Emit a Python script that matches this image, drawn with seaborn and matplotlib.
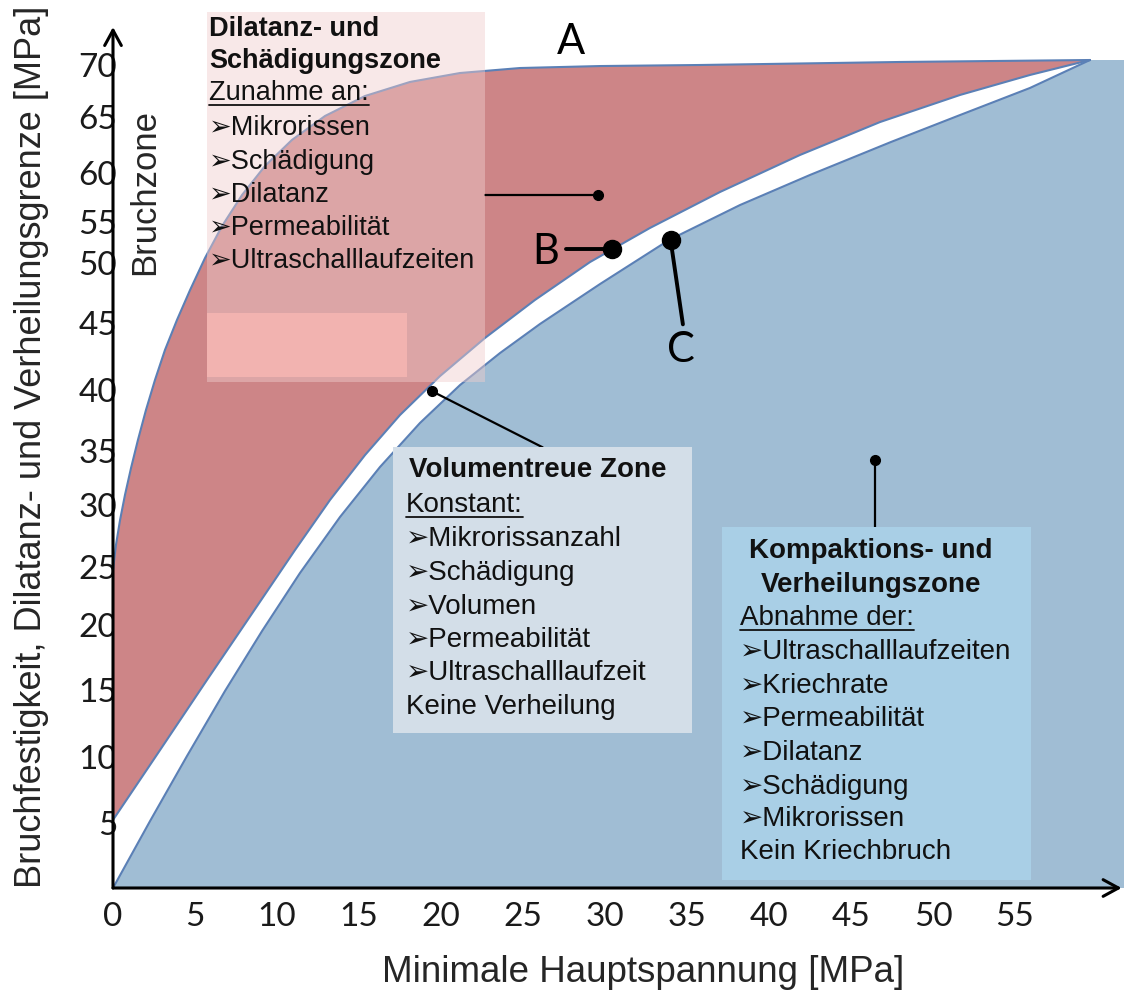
import numpy as np
import matplotlib
matplotlib.use("Agg")
import matplotlib.pyplot as plt
import seaborn as sns
from matplotlib.patches import Rectangle
from matplotlib.lines import Line2D

# ---------------- data (MPa) ----------------
# A: Bruchfestigkeit (upper envelope)
A_X = [0, 0.18, 0.43, 0.73, 1.10, 1.52, 2.01, 2.56, 3.17, 3.90, 4.70, 5.61,
       6.65, 7.87, 9.27, 10.91, 12.93, 15.37, 18.11, 21.16, 24.82, 29.7,
       35.79, 47.99, 59.57]
A_Y = [24.74, 26.77, 28.79, 30.93, 33.43, 35.9, 38.36, 40.75, 42.99, 45.25,
       47.75, 50.61, 54.51, 57.76, 60.63, 62.95, 65.1, 67.02, 68.37, 69.23,
       69.71, 69.9, 70.0, 70.29, 70.48]
# B: Dilatanzgrenze
B_X = [0, 2.87, 5.73, 8.54, 11.1, 13.23, 15.37, 17.5, 19.94, 22.68, 25.73,
       29.09, 32.74, 37.01, 41.89, 46.77, 51.65, 55.91, 59.57]
B_Y = [5.23, 10.52, 15.77, 21.12, 26.37, 30.46, 34.63, 37.95, 41.04, 43.88,
       46.92, 50.12, 54.27, 58.06, 61.61, 64.55, 67.12, 69.04, 70.48]
# C: Verheilungsgrenze
C_X = [0, 2.26, 4.51, 6.83, 9.09, 11.4, 13.84, 16.28, 18.72, 21.16, 23.6,
       26.04, 29.7, 33.9, 38.23, 42.5, 47.44, 51.65, 55.91, 59.57]
C_Y = [0, 5.15, 10.07, 14.93, 19.54, 24.48, 29.03, 33.52, 37.3, 40.37, 42.76,
       44.93, 48.25, 52.8, 56.73, 59.8, 62.77, 65.19, 67.79, 70.48]

X_TICKS = list(range(0, 60, 5))
Y_TICKS = list(range(5, 75, 5))

POINT_B = (30.43, 51.7)
POINT_C = (34.0, 52.8)
POINT_DIL = (29.6, 57.8)
POINT_VOL = (19.45, 39.9)
POINT_KOMP = (46.45, 34.2)

# ------------- y-scale calibration (hand-placed labels in the original) -------------
CAL_V = [-50, 0, 5, 10, 15, 20, 25, 30, 35, 40, 45, 50, 55, 60, 65, 70, 200]
CAL_H = [-650, 0, 65, 131, 198, 263, 321, 383, 437, 498, 565, 625, 666, 715,
         771, 823, 823 + 130 * 10.4]


def fwd(v):
    return np.interp(np.asarray(v, dtype=float), CAL_V, CAL_H)


def inv(u):
    return np.interp(np.asarray(u, dtype=float), CAL_H, CAL_V)


sns.set_theme(style="white")
SANS = ["Liberation Sans", "DejaVu Sans"]
plt.rcParams["font.family"] = SANS

RED = "#cd8587"
BLUE = "#a0bdd4"
EDGE = "#5b80b6"

W, H = 1124, 1001
fig = plt.figure(figsize=(W / 100, H / 100), dpi=100)
AX_L, AX_R, AX_B, AX_T = 113, 1124, 888, 8
ax = fig.add_axes([AX_L / W, 1 - AX_B / H, (AX_R - AX_L) / W, (AX_B - AX_T) / H])
ax.set_facecolor("white")
ax.set_yscale("function", functions=(fwd, inv))
XMAX = (AX_R - AX_L) / 16.4
ax.set_xlim(0, XMAX)
ax.set_ylim(0, float(inv(AX_B - AX_T)))
for s in ax.spines.values():
    s.set_visible(False)

# regions
ax.fill(A_X + B_X[::-1], A_Y + B_Y[::-1], color=RED, lw=0, zorder=1)
ax.fill(C_X + [XMAX, XMAX], C_Y + [C_Y[-1], 0], color=BLUE, lw=0, zorder=1)
for xs, ys in ((A_X, A_Y), (B_X, B_Y), (C_X, C_Y)):
    sns.lineplot(x=xs, y=ys, ax=ax, color=EDGE, lw=1.5, sort=False,
                 estimator=None, zorder=2)

# axes with arrows
arrow = dict(arrowstyle="->,head_length=0.55,head_width=0.3", lw=2.2,
             color="black", mutation_scale=20, shrinkA=0, shrinkB=0)
ax.annotate("", xy=(0, 73.65), xytext=(0, 0), arrowprops=arrow,
            annotation_clip=False, zorder=6)
ax.annotate("", xy=(61.5, 0), xytext=(0, 0), arrowprops=arrow,
            annotation_clip=False, zorder=6)

ax.set_xticks(X_TICKS, labels=[str(v) for v in X_TICKS])
ax.set_yticks(Y_TICKS, labels=[str(v) for v in Y_TICKS])
ax.tick_params(axis="both", length=0, labelsize=24, colors="#1a1a1a")
ax.tick_params(axis="x", pad=10)
ax.tick_params(axis="y", pad=-3)
for lab in ax.get_xticklabels() + ax.get_yticklabels():
    lab.set_fontfamily(["Lato", "DejaVu Sans"])
ax.grid(False)

# pointers
ax.plot([22.7, POINT_DIL[0]], [POINT_DIL[1]] * 2, color="black", lw=1.6, zorder=5)
ax.plot(*POINT_DIL, "o", color="black", ms=7, zorder=5)
ax.plot([POINT_VOL[0], 26.2], [POINT_VOL[1], 35.3], color="black", lw=1.6, zorder=5)
ax.plot(*POINT_VOL, "o", color="black", ms=7, zorder=5)
ax.plot([POINT_KOMP[0]] * 2, [POINT_KOMP[1], 28.2], color="black", lw=1.6, zorder=5)
ax.plot(*POINT_KOMP, "o", color="black", ms=7, zorder=5)
ax.plot([27.6, POINT_B[0]], [POINT_B[1]] * 2, color="black", lw=2.8, zorder=5)
ax.plot(*POINT_B, "o", color="black", ms=13, zorder=5)
ax.plot([POINT_C[0], 34.75], [POINT_C[1], 44.9], color="black", lw=2.8, zorder=5)
ax.plot(*POINT_C, "o", color="black", ms=13, zorder=5)

LETTER = dict(fontsize=30, family=["Lato", "DejaVu Sans"], color="black",
              ha="center", va="center", zorder=6)
ax.text(27.9, 72.2, "A", **LETTER)
ax.text(26.4, 51.34, "B", **LETTER)
ax.text(34.65, 43.0, "C", **LETTER)


def fx(px):
    return px / W


def fy(py):
    return 1 - py / H


def box(x0, y0, x1, y1, fc, alpha=1.0, z=3):
    fig.add_artist(Rectangle((fx(x0), fy(y1)), (x1 - x0) / W, (y1 - y0) / H,
                             transform=fig.transFigure, fc=fc, ec="none",
                             alpha=alpha, zorder=z))


underlines = []


def line(x, y, s, size, bold=False, ha="left", underline=False):
    t = fig.text(fx(x), fy(y), s, fontsize=size, ha=ha, va="center",
                 family=SANS, fontweight="bold" if bold else "normal",
                 color="#111111", zorder=8)
    if underline:
        underlines.append(t)
    return t


# Dilatanz- und Schaedigungszone box
box(207, 12, 485, 382, (240 / 255, 205 / 255, 205 / 255), alpha=0.45, z=3)
box(207, 313, 407, 377, "#f5b5b2", alpha=0.9, z=4)
L, FS = 209, 19.5
line(L, 29, "Dilatanz- und", FS, bold=True)
line(L, 61, "Schädigungszone", FS, bold=True)
line(L, 93, "Zunahme an:", FS, underline=True)
for y, s in zip([128, 162, 195, 228, 261],
                ["Mikrorissen", "Schädigung", "Dilatanz", "Permeabilität",
                 "Ultraschalllaufzeiten"]):
    line(L, y, "➢" + s, FS)

# Volumentreue Zone box
box(393, 447, 692, 733, "#d3dee8", z=3)
L, FS = 406, 20
line(L + 3, 470, "Volumentreue Zone", FS, bold=True)
line(L, 505, "Konstant:", FS, underline=True)
for y, s in zip([539, 573, 607, 640, 673],
                ["Mikrorissanzahl", "Schädigung", "Volumen", "Permeabilität",
                 "Ultraschalllaufzeit"]):
    line(L, y, "➢" + s, FS)
line(L, 707, "Keine Verheilung", FS)

# Kompaktions- und Verheilungszone box
box(722, 527, 1031, 880, "#a9cfe6", z=3)
L = 740
line(871, 551, "Kompaktions- und", FS, bold=True, ha="center")
line(871, 585, "Verheilungszone", FS, bold=True, ha="center")
line(L, 618, "Abnahme der:", FS, underline=True)
for y, s in zip([652, 686, 719, 753, 787, 819],
                ["Ultraschalllaufzeiten", "Kriechrate", "Permeabilität",
                 "Dilatanz", "Schädigung", "Mikrorissen"]):
    line(L, y, "➢" + s, FS)
line(L, 852, "Kein Kriechbruch", FS)

# axis titles
fig.text(fx(145), fy(192), "Bruchzone", rotation=90, fontsize=25,
         ha="center", va="center", family=SANS)
fig.text(fx(32), fy(447), "Bruchfestigkeit, Dilatanz- und Verheilungsgrenze [MPa]",
         rotation=90, fontsize=26, ha="center", va="center", family=SANS)
fig.text(fx(643), fy(973), "Minimale Hauptspannung [MPa]", fontsize=26.5,
         ha="center", va="center", family=SANS)

# underlines sized from the rendered text
fig.canvas.draw()
r = fig.canvas.get_renderer()
for t in underlines:
    bb = t.get_window_extent(renderer=r)
    yy = bb.y0 + 1
    fig.add_artist(Line2D([bb.x0 / W, bb.x1 / W], [yy / H, yy / H],
                          transform=fig.transFigure, color="#111111", lw=1.3,
                          zorder=8))

fig.savefig("out.png", dpi=100)
